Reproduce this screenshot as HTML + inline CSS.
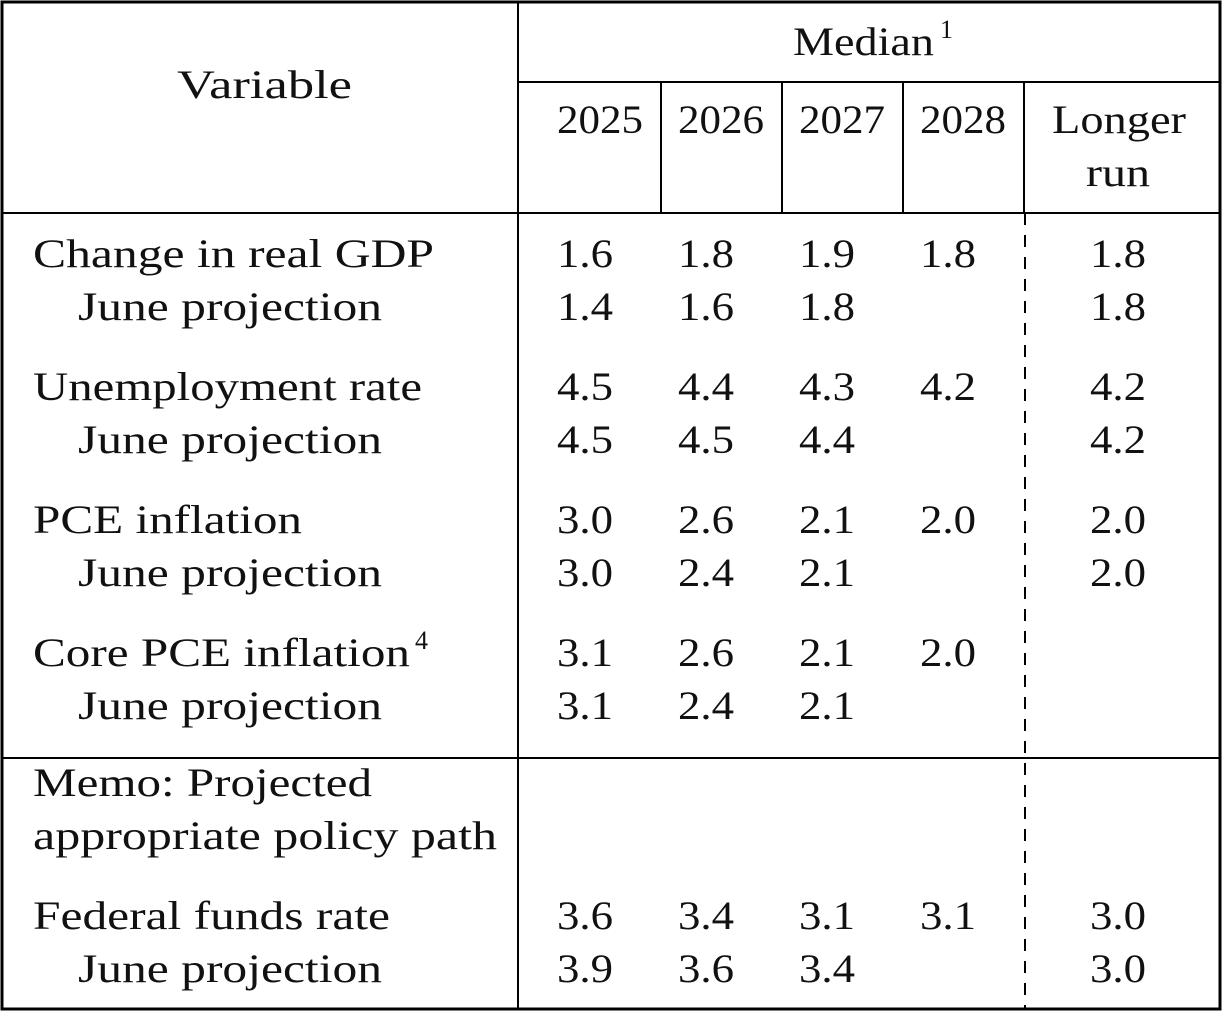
<!DOCTYPE html>
<html><head><meta charset="utf-8"><style>
html,body{margin:0;padding:0;background:#fff;}
svg{display:block}
text{font-family:"Liberation Serif","DejaVu Serif",serif;font-size:40px;fill:#111;}
.s{font-size:26px}
</style></head><body>
<svg width="1222" height="1012" viewBox="0 0 1222 1012" xmlns="http://www.w3.org/2000/svg">
<rect x="2" y="2" width="1218" height="1007" fill="none" stroke="#000" stroke-width="3"/>
<line x1="518" y1="2" x2="518" y2="1010" stroke="#000" stroke-width="2"/>
<line x1="518" y1="82" x2="1220" y2="82" stroke="#000" stroke-width="2"/>
<line x1="2" y1="213" x2="1220" y2="213" stroke="#000" stroke-width="2"/>
<line x1="2" y1="758" x2="1220" y2="758" stroke="#000" stroke-width="2"/>
<line x1="661" y1="82" x2="661" y2="213" stroke="#000" stroke-width="2"/>
<line x1="782" y1="82" x2="782" y2="213" stroke="#000" stroke-width="2"/>
<line x1="903" y1="82" x2="903" y2="213" stroke="#000" stroke-width="2"/>
<line x1="1024" y1="82" x2="1024" y2="213" stroke="#000" stroke-width="2"/>
<line x1="1025" y1="213" x2="1025" y2="1010" stroke="#000" stroke-width="2" stroke-dasharray="12,10"/>

<g transform="translate(0,-2)">
<text x="177" y="100" textLength="175" lengthAdjust="spacingAndGlyphs">Variable</text>
<text x="793" y="57" textLength="141" lengthAdjust="spacingAndGlyphs">Median</text>
<text x="940" y="40" class="s">1</text>
<text x="557" y="135" textLength="86" lengthAdjust="spacingAndGlyphs">2025</text>
<text x="678" y="135" textLength="86" lengthAdjust="spacingAndGlyphs">2026</text>
<text x="799" y="135" textLength="86" lengthAdjust="spacingAndGlyphs">2027</text>
<text x="920" y="135" textLength="86" lengthAdjust="spacingAndGlyphs">2028</text>
<text x="1052" y="135" textLength="134" lengthAdjust="spacingAndGlyphs">Longer</text>
<text x="1086" y="188" textLength="64" lengthAdjust="spacingAndGlyphs">run</text>
</g>

<g transform="translate(0,-3)">
<text x="33" y="270" textLength="401" lengthAdjust="spacingAndGlyphs">Change in real GDP</text>
<text x="78" y="323" textLength="304" lengthAdjust="spacingAndGlyphs">June projection</text>
<text x="33" y="403" textLength="389" lengthAdjust="spacingAndGlyphs">Unemployment rate</text>
<text x="78" y="456" textLength="304" lengthAdjust="spacingAndGlyphs">June projection</text>
<text x="33" y="536" textLength="269" lengthAdjust="spacingAndGlyphs">PCE inflation</text>
<text x="78" y="589" textLength="304" lengthAdjust="spacingAndGlyphs">June projection</text>
<text x="33" y="669" textLength="377" lengthAdjust="spacingAndGlyphs">Core PCE inflation</text>
<text x="415" y="652" class="s">4</text>
<text x="78" y="722" textLength="304" lengthAdjust="spacingAndGlyphs">June projection</text>
<text x="33" y="799" textLength="339" lengthAdjust="spacingAndGlyphs">Memo: Projected</text>
<text x="33" y="852" textLength="464" lengthAdjust="spacingAndGlyphs">appropriate policy path</text>
<text x="33" y="932" textLength="357" lengthAdjust="spacingAndGlyphs">Federal funds rate</text>
<text x="78" y="985" textLength="304" lengthAdjust="spacingAndGlyphs">June projection</text>
</g>

<g transform="translate(0,-3)" font-size="40">
<text x="557" y="270" textLength="56" lengthAdjust="spacingAndGlyphs">1.6</text><text x="678" y="270" textLength="56" lengthAdjust="spacingAndGlyphs">1.8</text><text x="799" y="270" textLength="56" lengthAdjust="spacingAndGlyphs">1.9</text><text x="920" y="270" textLength="56" lengthAdjust="spacingAndGlyphs">1.8</text><text x="1090" y="270" textLength="56" lengthAdjust="spacingAndGlyphs">1.8</text>
<text x="557" y="323" textLength="56" lengthAdjust="spacingAndGlyphs">1.4</text><text x="678" y="323" textLength="56" lengthAdjust="spacingAndGlyphs">1.6</text><text x="799" y="323" textLength="56" lengthAdjust="spacingAndGlyphs">1.8</text><text x="1090" y="323" textLength="56" lengthAdjust="spacingAndGlyphs">1.8</text>
<text x="557" y="403" textLength="56" lengthAdjust="spacingAndGlyphs">4.5</text><text x="678" y="403" textLength="56" lengthAdjust="spacingAndGlyphs">4.4</text><text x="799" y="403" textLength="56" lengthAdjust="spacingAndGlyphs">4.3</text><text x="920" y="403" textLength="56" lengthAdjust="spacingAndGlyphs">4.2</text><text x="1090" y="403" textLength="56" lengthAdjust="spacingAndGlyphs">4.2</text>
<text x="557" y="456" textLength="56" lengthAdjust="spacingAndGlyphs">4.5</text><text x="678" y="456" textLength="56" lengthAdjust="spacingAndGlyphs">4.5</text><text x="799" y="456" textLength="56" lengthAdjust="spacingAndGlyphs">4.4</text><text x="1090" y="456" textLength="56" lengthAdjust="spacingAndGlyphs">4.2</text>
<text x="557" y="536" textLength="56" lengthAdjust="spacingAndGlyphs">3.0</text><text x="678" y="536" textLength="56" lengthAdjust="spacingAndGlyphs">2.6</text><text x="799" y="536" textLength="56" lengthAdjust="spacingAndGlyphs">2.1</text><text x="920" y="536" textLength="56" lengthAdjust="spacingAndGlyphs">2.0</text><text x="1090" y="536" textLength="56" lengthAdjust="spacingAndGlyphs">2.0</text>
<text x="557" y="589" textLength="56" lengthAdjust="spacingAndGlyphs">3.0</text><text x="678" y="589" textLength="56" lengthAdjust="spacingAndGlyphs">2.4</text><text x="799" y="589" textLength="56" lengthAdjust="spacingAndGlyphs">2.1</text><text x="1090" y="589" textLength="56" lengthAdjust="spacingAndGlyphs">2.0</text>
<text x="557" y="669" textLength="56" lengthAdjust="spacingAndGlyphs">3.1</text><text x="678" y="669" textLength="56" lengthAdjust="spacingAndGlyphs">2.6</text><text x="799" y="669" textLength="56" lengthAdjust="spacingAndGlyphs">2.1</text><text x="920" y="669" textLength="56" lengthAdjust="spacingAndGlyphs">2.0</text>
<text x="557" y="722" textLength="56" lengthAdjust="spacingAndGlyphs">3.1</text><text x="678" y="722" textLength="56" lengthAdjust="spacingAndGlyphs">2.4</text><text x="799" y="722" textLength="56" lengthAdjust="spacingAndGlyphs">2.1</text>
<text x="557" y="932" textLength="56" lengthAdjust="spacingAndGlyphs">3.6</text><text x="678" y="932" textLength="56" lengthAdjust="spacingAndGlyphs">3.4</text><text x="799" y="932" textLength="56" lengthAdjust="spacingAndGlyphs">3.1</text><text x="920" y="932" textLength="56" lengthAdjust="spacingAndGlyphs">3.1</text><text x="1090" y="932" textLength="56" lengthAdjust="spacingAndGlyphs">3.0</text>
<text x="557" y="985" textLength="56" lengthAdjust="spacingAndGlyphs">3.9</text><text x="678" y="985" textLength="56" lengthAdjust="spacingAndGlyphs">3.6</text><text x="799" y="985" textLength="56" lengthAdjust="spacingAndGlyphs">3.4</text><text x="1090" y="985" textLength="56" lengthAdjust="spacingAndGlyphs">3.0</text>
</g>
</svg>
</body></html>
